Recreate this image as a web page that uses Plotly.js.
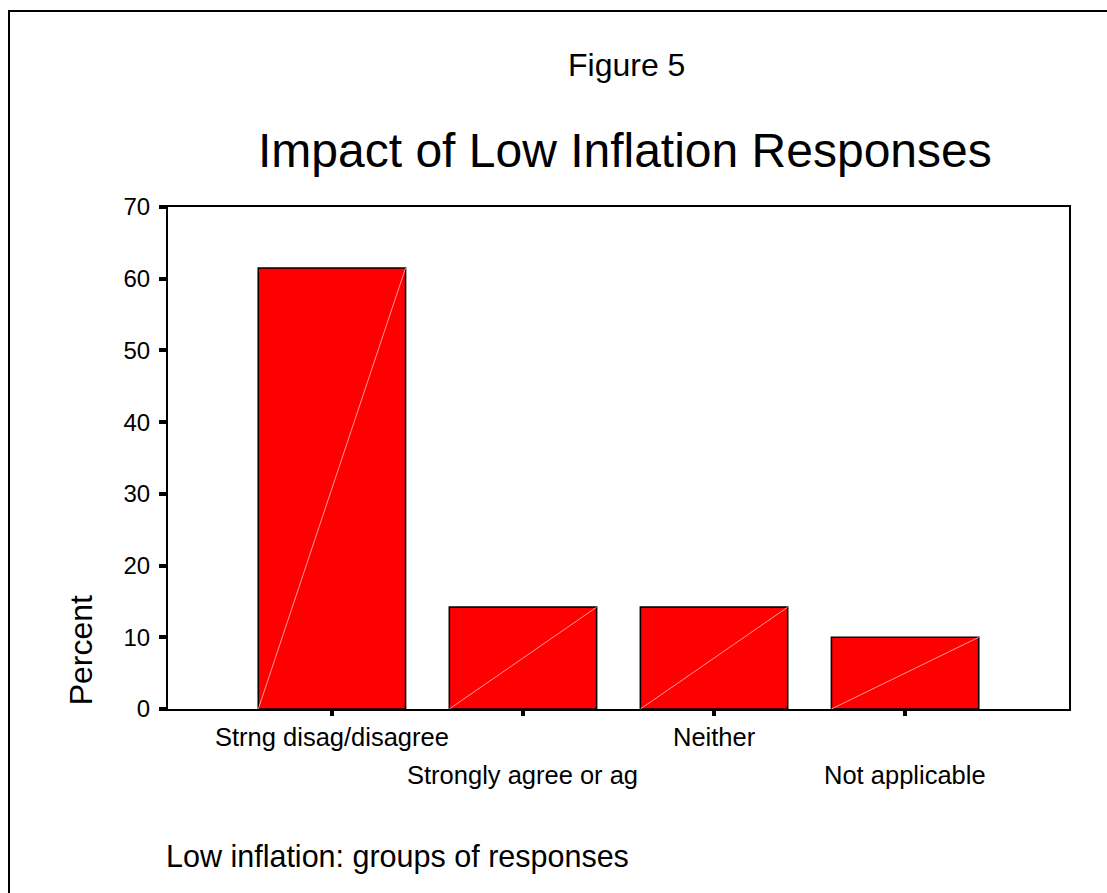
<!DOCTYPE html>
<html>
<head>
<meta charset="utf-8">
<script src="https://cdn.plot.ly/plotly-3.0.1.min.js"></script>
<style>
  html, body { margin: 0; padding: 0; background: #fff; }
  #wrap { position: relative; width: 1107px; height: 893px; overflow: hidden; }
  #chart { position: absolute; left: 0; top: 0; width: 1107px; height: 893px; }
  #frame { position: absolute; left: 7.5px; top: 9.5px; width: 1200px; height: 1000px;
           border-left: 2px solid #000; border-top: 2px solid #000; pointer-events: none; }
</style>
</head>
<body>
<div id="wrap">
  <div id="chart"></div>
  <div id="frame"></div>
</div>
<script>
// ---- data ----
const categories = ["Strng disag/disagree", "Strongly agree or ag", "Neither", "Not applicable"];
const percent = [61.5, 14.2, 14.2, 10.0];
const yTicks = [0, 10, 20, 30, 40, 50, 60, 70];
const figureLabel = "Figure 5";
const chartTitle = "Impact of Low Inflation Responses";
const yTitle = "Percent";
const xTitle = "Low inflation: groups of responses";

// ---- build ----
const FONT = "Liberation Sans, Arial, sans-serif";
const idx = categories.map((_, i) => i);
const barW = 0.771;

const bars = {
  type: "bar",
  x: idx,
  y: percent,
  width: barW,
  marker: { color: "#ff0000", line: { color: "#000", width: 1.6 } },
  hoverinfo: "skip",
  showlegend: false
};

// diagonal highlight inside each bar (bottom-left to top-right), derived from data
const dx = [], dy = [];
idx.forEach((i) => {
  dx.push(i - barW / 2, i + barW / 2, null);
  dy.push(0, percent[i], null);
});
const diag = {
  type: "scatter",
  mode: "lines",
  x: dx, y: dy,
  line: { color: "rgba(255,170,170,0.9)", width: 1 },
  hoverinfo: "skip",
  showlegend: false
};

const annotations = [];
categories.forEach((c, i) => {
  annotations.push({
    text: c, x: i, xref: "x", y: 0, yref: "paper",
    xanchor: "center", yanchor: "middle",
    yshift: i % 2 === 0 ? -27.5 : -66,
    showarrow: false,
    font: { family: FONT, size: 25.5, color: "#000" }
  });
});
annotations.push({
  text: figureLabel, xref: "paper", yref: "paper", x: 0.509, y: 1.282,
  xanchor: "center", yanchor: "middle", showarrow: false,
  font: { family: FONT, size: 32, color: "#000" }
});
annotations.push({
  text: chartTitle, xref: "paper", yref: "paper", x: 0.507, y: 1.113,
  xanchor: "center", yanchor: "middle", showarrow: false,
  font: { family: FONT, size: 48, color: "#000" }
});
annotations.push({
  text: yTitle, xref: "paper", yref: "paper", x: -0.097, y: 0.116,
  xanchor: "center", yanchor: "middle", textangle: -90, showarrow: false,
  font: { family: FONT, size: 32, color: "#000" }
});
annotations.push({
  text: xTitle, xref: "paper", yref: "paper", x: -0.004, y: -0.293,
  xanchor: "left", yanchor: "middle", showarrow: false,
  font: { family: FONT, size: 30.5, color: "#000" }
});

const layout = {
  width: 1107, height: 893,
  margin: { l: 167.5, r: 37.7, t: 206.5, b: 183.7, pad: 0 },
  paper_bgcolor: "rgba(0,0,0,0)",
  plot_bgcolor: "#fff",
  showlegend: false,
  xaxis: {
    range: [-0.858, 3.858],
    tickvals: idx,
    showticklabels: false,
    ticks: "outside", ticklen: 5, tickwidth: 4, tickcolor: "#000",
    showline: true, linecolor: "#000", linewidth: 2, mirror: true,
    showgrid: false, zeroline: false, fixedrange: true
  },
  yaxis: {
    range: [0, 70],
    tickvals: yTicks,
    ticks: "outside", ticklen: 7, tickwidth: 4, tickcolor: "#000",
    ticklabelstandoff: 4,
    tickfont: { family: FONT, size: 24, color: "#000" },
    showline: true, linecolor: "#000", linewidth: 2, mirror: true,
    showgrid: false, zeroline: false, fixedrange: true
  },
  annotations: annotations
};

Plotly.newPlot("chart", [bars, diag], layout, { staticPlot: true, displayModeBar: false });
</script>
</body>
</html>
